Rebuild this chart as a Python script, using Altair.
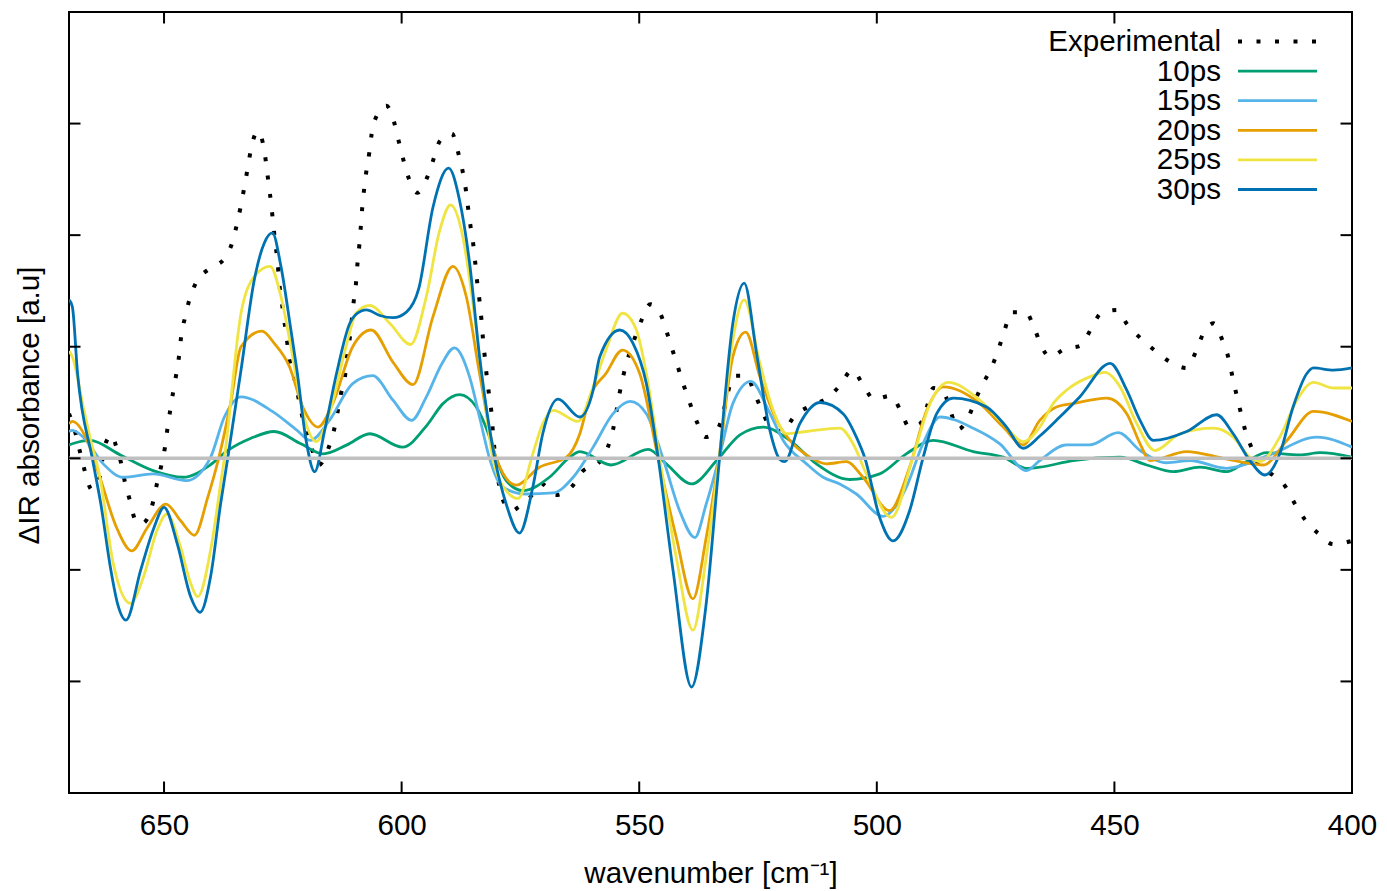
import altair as alt
import pandas as pd

# ---------------- data ----------------
WN_EXP = [670.0, 668.6, 667.7, 666.7, 665.2, 663.4, 662.9, 661.8, 661.0, 660.1, 659.0, 658.2, 657.1,
          656.1, 654.9, 653.8, 652.3, 651.5, 650.6, 649.8, 649.3, 648.7, 648.1, 647.4, 646.8, 646.4,
          645.6, 644.6, 643.2, 640.4, 637.3, 635.6, 634.6, 633.8, 633.1, 632.4, 631.7, 630.3, 628.9,
          628.4, 627.9, 627.4, 627.0, 626.6, 626.1, 625.8, 625.3, 624.8, 624.2, 623.8, 622.8, 620.3,
          619.1, 617.4, 615.5, 614.3, 613.5, 612.8, 611.9, 611.5, 610.9, 610.1, 609.6, 609.3, 608.9,
          608.6, 608.3, 607.9, 607.4, 606.8, 606.3, 605.1, 603.2, 601.5, 600.6, 599.6, 598.5, 596.7,
          594.6, 593.3, 592.0, 589.4, 588.1, 587.2, 586.5, 586.0, 585.5, 584.9, 584.5, 584.1, 583.6,
          583.2, 582.9, 582.5, 582.1, 581.6, 581.1, 580.8, 579.4, 578.1, 576.7, 575.5, 573.0, 570.5,
          567.6, 564.3, 562.0, 558.5, 556.6, 555.5, 554.1, 553.3, 552.2, 551.0, 549.5, 547.7, 545.5,
          544.2, 543.0, 541.8, 540.6, 539.3, 537.9, 536.1, 533.4, 529.9, 527.4, 525.8, 524.3, 522.5,
          519.9, 517.3, 514.0, 510.4, 507.8, 505.2, 502.9, 500.6, 497.1, 494.9, 493.2, 490.9, 489.4,
          488.1, 485.7, 484.4, 482.9, 480.6, 479.2, 477.5, 475.7, 474.3, 473.1, 471.6, 468.7, 466.8,
          465.3, 463.6, 460.4, 457.1, 454.9, 452.8, 449.5, 447.3, 444.6, 441.6, 438.5, 434.9, 432.9,
          431.4, 429.1, 427.3, 426.0, 425.2, 424.3, 423.4, 422.4, 421.1, 419.7, 416.7, 413.9, 412.0,
          409.9, 407.2, 403.9, 400.0]
V_EXP = [0.40, 0.22, 0.06, -0.11, -0.28, -0.15, 0.02, 0.18, 0.21, 0.11, -0.05, -0.22, -0.39,
         -0.55, -0.59, -0.56, -0.39, -0.23, -0.07, 0.10, 0.26, 0.43, 0.59, 0.76, 0.93, 1.09,
         1.26, 1.43, 1.58, 1.70, 1.79, 1.94, 2.11, 2.27, 2.43, 2.60, 2.77, 2.93, 2.76,
         2.60, 2.43, 2.26, 2.09, 1.93, 1.76, 1.59, 1.43, 1.26, 1.09, 0.93, 0.76, 0.27,
         0.11, -0.06, 0.08, 0.24, 0.41, 0.57, 0.74, 0.91, 1.08, 1.40, 1.57, 1.74, 1.91,
         2.07, 2.24, 2.41, 2.58, 2.74, 2.91, 3.08, 3.16, 3.00, 2.84, 2.67, 2.51, 2.38,
         2.52, 2.68, 2.84, 2.91, 2.74, 2.58, 2.41, 2.24, 2.08, 1.91, 1.75, 1.58, 1.41,
         1.24, 1.08, 0.91, 0.74, 0.57, 0.41, 0.24, -0.26, -0.42, -0.47, -0.44, -0.35, -0.23,
         -0.33, -0.26, -0.12, -0.04, 0.10, 0.26, 0.59, 0.75, 0.92, 1.07, 1.24, 1.38, 1.29,
         1.13, 0.97, 0.81, 0.65, 0.49, 0.33, 0.19, 0.27, 0.74, 0.74, 0.59, 0.44, 0.29,
         0.24, 0.38, 0.47, 0.54, 0.65, 0.79, 0.66, 0.53, 0.56, 0.42, 0.28, 0.31, 0.47,
         0.63, 0.57, 0.41, 0.26, 0.38, 0.53, 0.68, 0.83, 0.99, 1.15, 1.31, 1.31, 1.16,
         1.00, 0.91, 0.98, 1.01, 1.16, 1.30, 1.33, 1.20, 1.08, 0.97, 0.87, 0.81, 0.95,
         1.11, 1.21, 1.06, 0.90, 0.74, 0.57, 0.41, 0.24, 0.09, -0.05, -0.15, -0.26, -0.41,
         -0.55, -0.67, -0.77, -0.74]

WN_10 = [670.0, 669.3, 665.6, 659.2, 652.3, 646.0, 640.3, 636.6, 631.7, 626.8, 621.2, 616.5,
         611.5, 606.7, 599.8, 594.6, 591.3, 587.8, 584.3, 581.5, 580.1, 578.0, 574.5, 568.9,
         564.6, 562.5, 555.9, 548.1, 544.3, 539.0, 533.7, 528.8, 523.9, 518.3, 512.7, 505.7,
         499.4, 493.8, 488.1, 479.7, 473.4, 468.5, 465.7, 458.7, 448.8, 443.2, 437.6, 432.0,
         426.4, 422.2, 418.0, 411.0, 406.7, 400.0]
V_10 = [0.12, 0.13, 0.16, 0.03, -0.11, -0.17, -0.06, 0.07, 0.18, 0.24, 0.13, 0.04,
        0.12, 0.22, 0.10, 0.30, 0.49, 0.57, 0.46, 0.19, 0.00, -0.20, -0.29, -0.17,
        0.01, 0.06, -0.06, 0.08, -0.05, -0.23, -0.02, 0.21, 0.28, 0.16, -0.05, -0.19,
        -0.14, 0.04, 0.16, 0.06, 0.01, -0.09, -0.08, -0.02, 0.01, -0.06, -0.12, -0.08,
        -0.12, -0.03, 0.05, 0.03, 0.05, 0.01]

WN_15 = [670.0, 669.3, 667.0, 662.8, 658.6, 652.3, 645.3, 640.3, 637.3, 633.8, 627.2, 622.0,
         619.2, 615.2, 610.3, 606.1, 601.8, 597.9, 594.8, 591.5, 588.9, 585.7, 583.5, 581.5,
         578.7, 573.8, 568.1, 563.9, 559.7, 555.5, 551.9, 548.5, 545.0, 541.5, 538.3, 535.9,
         533.2, 530.3, 526.5, 522.8, 519.7, 514.8, 511.3, 507.8, 504.3, 498.7, 493.8, 490.3,
         486.7, 479.7, 474.1, 468.5, 465.7, 460.1, 455.2, 449.2, 444.6, 439.0, 434.1, 426.4,
         417.3, 407.4, 400.0]
V_15 = [0.24, 0.25, 0.19, -0.05, -0.17, -0.14, -0.20, 0.00, 0.37, 0.55, 0.42, 0.25,
        0.16, 0.34, 0.67, 0.74, 0.52, 0.34, 0.55, 0.85, 0.99, 0.73, 0.35, 0.00,
        -0.26, -0.32, -0.31, -0.17, 0.10, 0.40, 0.51, 0.40, 0.00, -0.47, -0.71, -0.41,
        0.00, 0.49, 0.69, 0.43, 0.16, -0.05, -0.17, -0.23, -0.32, -0.52, -0.26, 0.13,
        0.37, 0.27, 0.13, -0.11, -0.02, 0.12, 0.12, 0.23, 0.07, -0.04, -0.02, -0.09,
        0.03, 0.19, 0.10]

WN_20 = [670.0, 669.3, 665.6, 663.5, 660.0, 656.8, 653.5, 649.6, 646.5, 643.6, 640.8, 638.5,
         636.0, 633.8, 629.4, 626.8, 623.6, 620.8, 617.6, 614.5, 610.3, 606.4, 601.8, 597.6,
         593.4, 589.2, 586.4, 583.6, 580.1, 575.9, 571.0, 565.3, 562.5, 560.4, 557.0, 553.5,
         549.9, 546.0, 542.2, 538.7, 535.9, 533.2, 530.3, 527.6, 524.6, 521.1, 518.3, 514.8,
         510.6, 506.4, 502.9, 497.3, 493.1, 489.5, 486.0, 478.3, 473.4, 469.2, 465.7, 462.2,
         458.7, 451.6, 447.4, 444.6, 442.5, 434.8, 427.1, 418.7, 413.7, 408.1, 400.0]
V_20 = [0.31, 0.33, 0.10, -0.17, -0.62, -0.83, -0.62, -0.41, -0.56, -0.69, -0.35, 0.00,
        0.49, 1.00, 1.14, 1.03, 0.82, 0.46, 0.28, 0.49, 1.00, 1.15, 0.86, 0.66,
        1.27, 1.72, 1.45, 0.76, 0.00, -0.24, -0.08, 0.01, 0.22, 0.55, 0.76, 0.97,
        0.76, 0.00, -0.71, -1.26, -0.71, 0.00, 0.91, 1.13, 0.73, 0.34, 0.16, 0.03,
        -0.05, -0.03, -0.17, -0.47, -0.08, 0.43, 0.64, 0.49, 0.28, 0.12, 0.34, 0.46,
        0.49, 0.54, 0.40, 0.13, -0.02, 0.06, 0.00, -0.06, 0.16, 0.42, 0.33]

WN_25 = [670.0, 669.3, 667.0, 665.6, 663.5, 660.7, 657.1, 654.3, 651.5, 649.4, 646.5, 644.4,
         642.9, 640.1, 638.0, 637.3, 633.8, 631.0, 627.7, 625.4, 623.3, 620.7, 618.0, 615.2,
         611.7, 609.6, 606.7, 602.5, 598.1, 594.8, 592.0, 589.7, 587.1, 585.0, 582.9, 580.8,
         578.0, 575.5, 572.4, 570.3, 568.1, 562.9, 559.7, 557.0, 553.5, 550.6, 548.5, 545.7,
         542.2, 538.7, 535.9, 533.2, 530.3, 527.9, 524.6, 521.8, 519.0, 514.8, 507.8, 505.0,
         502.2, 496.9, 492.4, 488.8, 485.0, 478.3, 473.4, 469.2, 465.7, 462.9, 460.1, 455.2,
         452.0, 448.8, 445.3, 441.5, 436.2, 429.2, 425.0, 421.5, 419.4, 415.2, 411.6, 408.1,
         403.9, 400.0]
V_25 = [0.96, 0.91, 0.46, 0.19, -0.17, -0.94, -1.30, -1.06, -0.65, -0.50, -0.80, -1.12,
        -1.24, -0.80, -0.20, 0.00, 1.30, 1.63, 1.72, 1.45, 1.00, 0.40, 0.15, 0.40,
        1.00, 1.30, 1.37, 1.21, 1.02, 1.45, 2.04, 2.27, 1.98, 1.39, 0.67, 0.00,
        -0.29, -0.36, 0.04, 0.31, 0.43, 0.33, 0.64, 0.97, 1.30, 1.15, 0.76, 0.00,
        -0.89, -1.54, -0.89, 0.00, 1.06, 1.42, 0.85, 0.43, 0.22, 0.24, 0.27, 0.13,
        -0.14, -0.53, 0.01, 0.49, 0.68, 0.52, 0.31, 0.15, 0.28, 0.49, 0.61, 0.73,
        0.77, 0.64, 0.31, 0.07, 0.22, 0.27, 0.19, 0.01, -0.03, 0.19, 0.52, 0.68,
        0.63, 0.63]

WN_30 = [670.0, 669.3, 668.2, 665.1, 663.3, 661.2, 659.8, 658.0, 654.9, 652.1, 650.0, 647.2,
         644.4, 642.4, 640.2, 638.1, 636.6, 633.8, 631.0, 628.9, 627.2, 625.4, 623.3, 622.0,
         620.1, 618.3, 616.2, 613.7, 610.9, 608.5, 607.4, 604.6, 601.8, 599.0, 596.4, 593.4,
         590.1, 587.8, 585.7, 583.6, 580.4, 578.0, 575.2, 572.4, 570.3, 567.1, 562.5, 559.7,
         558.3, 554.1, 551.3, 548.5, 546.0, 542.9, 539.0, 535.9, 533.1, 530.3, 527.9, 525.3,
         522.5, 520.4, 519.4, 516.2, 511.9, 507.1, 504.3, 502.5, 499.4, 496.6, 493.1, 490.3,
         487.4, 483.9, 476.9, 472.7, 469.2, 465.7, 461.5, 457.3, 450.9, 447.4, 444.6, 441.8,
         434.8, 428.5, 425.0, 421.5, 418.3, 415.2, 412.4, 409.5, 408.1, 403.9, 400.0]
V_30 = [1.42, 1.36, 0.76, 0.00, -0.41, -1.00, -1.30, -1.45, -1.00, -0.62, -0.44, -0.77,
        -1.24, -1.38, -1.06, -0.41, 0.00, 0.79, 1.60, 1.93, 2.02, 1.72, 1.15, 0.78,
        0.16, -0.12, 0.25, 0.76, 1.21, 1.32, 1.33, 1.28, 1.26, 1.31, 1.52, 2.25,
        2.60, 2.31, 1.75, 0.91, 0.00, -0.41, -0.67, -0.26, 0.22, 0.53, 0.37, 0.61,
        0.91, 1.15, 1.03, 0.67, 0.00, -1.00, -2.05, -1.30, 0.00, 1.21, 1.57, 0.94,
        0.25, -0.01, -0.03, 0.31, 0.50, 0.40, 0.19, 0.00, -0.53, -0.74, -0.47, 0.00,
        0.40, 0.54, 0.46, 0.28, 0.09, 0.20, 0.37, 0.55, 0.85, 0.61, 0.34, 0.16,
        0.24, 0.39, 0.22, -0.02, -0.15, 0.04, 0.46, 0.76, 0.81, 0.79, 0.81]

SERIES_LABELS = ["Experimental", "10ps", "15ps", "20ps", "25ps", "30ps"]
SERIES_COLORS = ["#000000", "#009E73", "#56B4E9", "#E69F00", "#F0E442", "#0072B2"]
X_TICKS = [650, 600, 550, 500, 450, 400]
Y_TICKS = [-2, -1, 0, 1, 2, 3]
X_DOMAIN = [400, 670]
Y_DOMAIN = [-3, 4]

# ---------------- layout / style ----------------
W, H = 1283, 781
FONT = "Liberation Sans"
FS = 29.6
TICK_LEN = 11.5
DOT_DASH = [4, 14.5]
LINE_W = 2.8

x_scale = alt.Scale(domain=X_DOMAIN, reverse=True, nice=False, zero=False)
y_scale = alt.Scale(domain=Y_DOMAIN, nice=False, zero=False)

x_axis = alt.Axis(values=X_TICKS, format="d", labelFont=FONT, labelFontSize=FS, labelColor="black",
                  labelBaseline="alphabetic", labelPadding=41.5, labelFlush=False, labelOverlap=False,
                  ticks=False, tickSize=0, domain=False, grid=False,
                  title="wavenumber [cm⁻¹]", titleFont=FONT, titleFontSize=FS,
                  titleFontWeight="normal", titleColor="black", titleBaseline="alphabetic",
                  titleY=89.5)
y_axis = alt.Axis(labels=False, ticks=False, tickSize=0, domain=False, grid=False,
                  title="ΔIR absorbance [a.u]", titleFont=FONT, titleFontSize=FS,
                  titleFontWeight="normal", titleColor="black", titleBaseline="alphabetic",
                  titleAngle=270, titleAlign="center", titleX=-30.5, titleY=393)


def xq(field):
    return alt.X(f"{field}:Q", scale=x_scale, axis=x_axis)


def yq(field):
    return alt.Y(f"{field}:Q", scale=y_scale, axis=y_axis)


series_data = [(WN_EXP, V_EXP), (WN_10, V_10), (WN_15, V_15), (WN_20, V_20), (WN_25, V_25), (WN_30, V_30)]

layers = []

# experimental (dotted black)
df_exp = pd.DataFrame({"wn": WN_EXP, "v": V_EXP})
layers.append(
    alt.Chart(df_exp).mark_line(color="black", strokeWidth=4, strokeDash=DOT_DASH,
                                interpolate="monotone", clip=True)
    .encode(x=xq("wn"), y=yq("v"), order=alt.Order("wn:Q", sort="descending"))
)

# simulated curves
for (wn, vals), color in zip(series_data[1:], SERIES_COLORS[1:]):
    df = pd.DataFrame({"wn": wn, "v": vals})
    layers.append(
        alt.Chart(df).mark_line(color=color, strokeWidth=LINE_W, interpolate="monotone", clip=True)
        .encode(x=xq("wn"), y=yq("v"), order=alt.Order("wn:Q", sort="descending"))
    )

# zero line
layers.append(
    alt.Chart(pd.DataFrame({"zero": [0]})).mark_rule(color="#C0C0C0", strokeWidth=3.5)
    .encode(y=yq("zero"))
)

# inward ticks, all four sides
df_xt = pd.DataFrame({"t": X_TICKS})
df_yt = pd.DataFrame({"t": Y_TICKS})
layers.append(alt.Chart(df_xt).mark_rule(color="black", strokeWidth=2)
              .encode(x=xq("t"), y=alt.value(H), y2=alt.value(H - TICK_LEN)))
layers.append(alt.Chart(df_xt).mark_rule(color="black", strokeWidth=2)
              .encode(x=xq("t"), y=alt.value(0), y2=alt.value(TICK_LEN)))
layers.append(alt.Chart(df_yt).mark_rule(color="black", strokeWidth=2)
              .encode(y=yq("t"), x=alt.value(0), x2=alt.value(TICK_LEN)))
layers.append(alt.Chart(df_yt).mark_rule(color="black", strokeWidth=2)
              .encode(y=yq("t"), x=alt.value(W - TICK_LEN), x2=alt.value(W)))

# key (labels right-aligned, sample line to their right)
KEY_TEXT_X = 1152
KEY_LINE_X1, KEY_LINE_X2 = 1169, 1248
KEY_ROW0, KEY_ROW_STEP = 29.5, 29.6
for i, (label, color) in enumerate(zip(SERIES_LABELS, SERIES_COLORS)):
    row_y = KEY_ROW0 + KEY_ROW_STEP * i
    df_lab = pd.DataFrame({"label": [label]})
    layers.append(
        alt.Chart(df_lab).mark_text(align="right", baseline="alphabetic", font=FONT, fontSize=FS,
                                    color="black")
        .encode(text="label:N", x=alt.value(KEY_TEXT_X), y=alt.value(row_y + 9.5))
    )
    if i == 0:
        rule = alt.Chart(df_lab).mark_rule(color=color, strokeWidth=4, strokeDash=DOT_DASH)
    else:
        rule = alt.Chart(df_lab).mark_rule(color=color, strokeWidth=LINE_W)
    layers.append(rule.encode(x=alt.value(KEY_LINE_X1), x2=alt.value(KEY_LINE_X2),
                              y=alt.value(row_y)))

chart = (
    alt.layer(*layers)
    .properties(width=W, height=H,
                autosize=alt.AutoSizeParams(type="none"),
                padding={"left": 69, "top": 12, "right": 35, "bottom": 98},
                background="white")
    .configure_view(stroke="black", strokeWidth=2)
)

chart.save("out.html", embed_options={"renderer": "svg", "actions": False})
